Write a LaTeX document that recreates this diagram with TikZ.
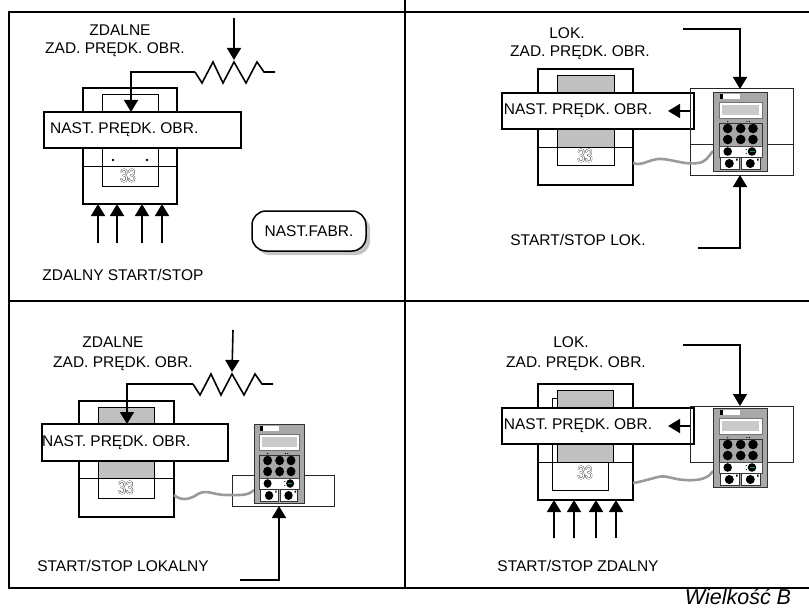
\documentclass[tikz,border=0pt]{standalone}
\usepackage{fontspec}
\setmainfont{Liberation Sans}
\usetikzlibrary{arrows.meta,shadows}
\definecolor{kpgray}{HTML}{A8A8A8}
\definecolor{dispgray}{HTML}{C0C0C0}
\definecolor{lcdgray}{HTML}{CACACA}
\definecolor{cablegray}{HTML}{9A9A9A}
\definecolor{keyteal}{HTML}{1E8C8C}
% outlined figures for the drive's seven-segment display:
% four shifted dark copies with a white copy on top
\newcommand\hollowdigits[1]{\leavevmode
  \rlap{\color{black!75}\kern-0.55pt #1}%
  \rlap{\color{black!75}\kern0.55pt #1}%
  \rlap{\color{black!75}\raise0.45pt\hbox{#1}}%
  \rlap{\color{black!75}\raise-0.45pt\hbox{#1}}%
  {\color{white}#1}}

\begin{document}
\begin{tikzpicture}[x=1pt,y=-1pt,
  lbl/.style={font=\fontsize{15.5}{18}\selectfont, inner sep=0pt},
  framing/.style={line width=2pt},
  casebox/.style={draw, line width=1.8pt, fill=white, anchor=north west, inner sep=0pt, outer sep=0pt},
  dispbox/.style={draw, line width=0.9pt, anchor=north west, inner sep=0pt, outer sep=0pt},
  setbox/.style={draw, line width=1.8pt, fill=white, anchor=north west, inner sep=0pt, outer sep=0pt},
  mountbox/.style={draw=black!85, line width=1pt, anchor=north west, inner sep=0pt, outer sep=0pt},
  wire/.style={line width=1.6pt},
  tip/.style={-{Triangle[width=14pt,length=12pt]}},
  cable/.style={draw=cablegray, line width=2.6pt},
  digits/.style={font=\fontsize{19}{19}\selectfont, xscale=0.72, inner sep=0pt},
  thinrule/.style={line width=0.9pt},
  keypad/.pic={
    \path[fill=kpgray, draw=black!80, line width=0.8pt] (0,0) rectangle (54,79);
    \coordinate (-s) at (27,79);
    \fill[black] (7,2) rectangle (10,7);
    \fill[white] (10,2) rectangle (27,7);
    \path[fill=white, draw=black!55, line width=0.5pt] (6,10) rectangle (49,26);
    \fill[lcdgray] (9,13) rectangle (46,23);
    \fill (14.7,29.5) circle (0.7) (34,29.5) circle (0.7) (36.5,29.5) circle (0.7);
    \path[draw=black!80, line width=0.8pt] (6,31) rectangle (49,54);
    \foreach \cx in {14.7,27.7,40} \foreach \cy in {36.5,47.5} \fill (\cx,\cy) circle (4.8);
    \path[fill=white, draw=black!70, line width=0.5pt] (6,54) rectangle (49,65);
    \fill (14.7,59.5) circle (4.3) (39,59.5) circle (4.3);
    \draw[keyteal, line width=1pt] (36.5,59.5) -- (41.5,59.5);
    \fill (33.2,57.5) circle (0.6) (33.2,61.5) circle (0.6);
    \path[fill=white, draw=black!80, line width=0.7pt] (7,65) rectangle (26,77) (28,65) rectangle (47,77);
    \fill (16.3,71.5) circle (4.5) (37.3,71.5) circle (4.5);
    \fill (23,66.5) rectangle (24.5,68.5) (44,66.5) rectangle (45.5,68.5);
  },
  pot/.pic={
    \coordinate (-start) at (0,0);
    \coordinate (-wiper) at (39,-12);
    \draw[wire, line join=miter] (0,0) -- (7,11) -- (18,-10) -- (28,11) -- (39,-10)
      -- (51,11) -- (62,-10) -- (69,0) -- (80,0);
  }
]
\useasboundingbox (0,0) rectangle (809,610);

% ---- outer frame and quadrant rules
\draw[framing] (9,12) rectangle (815,588);
\draw[framing] (405,0) -- (405,588);
\draw[framing] (9,301) -- (815,301);

% ================= top left: remote reference, remote start/stop
\node[lbl] (tlA) at (120,30) {ZDALNE};
\node[lbl] (tlB) at (115,50) {ZAD. PRĘDK. OBR.};
\node[casebox, minimum width=94pt, minimum height=116pt] (tldrive) at (83,88) {};
\node[dispbox, minimum width=56pt, minimum height=92pt] (tldisp) at (102,94) {};
\draw[thinrule] (83,166) -- (177,166);
\fill (113,160) circle (1.4) (147,160) circle (1.4);
\node[digits] (tlnum) at (128,176) {\hollowdigits{33}};
\node[setbox, minimum width=197pt, minimum height=36pt] (tlset) at (44,112) {};
\node[lbl, anchor=west] (tlsetT) at (50,130) {NAST. PRĘDK. OBR.};
\pic (tlpot) at (195,72) {pot};
\coordinate (tlwip) at (234,18);
\draw[wire,tip] (tlwip) -- (tlpot-wiper);
\coordinate (tlin) at (131,112);
\draw[wire,tip] (tlpot-start) -| (tlin);
\foreach \x [count=\i] in {98,117,142,162} {
  \coordinate (tls\i) at (\x,243);
  \draw[wire,tip] (tls\i) -- (tls\i |- tldrive.south);
}
\node[lbl] (tlC) at (123,275) {ZDALNY START/STOP};
\node[lbl, draw, line width=1.5pt, fill=white, rounded corners=14pt,
  minimum width=114pt, minimum height=40pt,
  drop shadow={shadow xshift=4pt, shadow yshift=-4pt, fill=black!45}] (tlfab) at (309,231) {NAST.FABR.};

% ================= top right: local reference, local start/stop
\node[lbl] (trA) at (567,33) {LOK.};
\node[lbl] (trB) at (580,53) {ZAD. PRĘDK. OBR.};
\node[casebox, minimum width=95pt, minimum height=116pt] (trdrive) at (538,69) {};
\node[dispbox, minimum width=57pt, minimum height=90pt] (trdisp) at (557,75) {};
\node[dispbox, fill=dispgray, minimum width=57pt, minimum height=72pt] (trlcd) at (557,75) {};
\draw[thinrule] (538,147) -- (633,147);
\node[digits] (trnum) at (585,156) {\hollowdigits{33}};
\node[setbox, minimum width=192pt, minimum height=36pt] (trset) at (502,93) {};
\node[lbl] (trsetT) at (578,111) {NAST. PRĘDK. OBR.};
\node[mountbox, minimum width=103pt, minimum height=86pt] (trmount) at (690,89) {};
\draw[thinrule, black!85] (690,144) -- (793,144);
\draw[cable] (633,163) .. controls (642,167) and (650,158) .. (662,159)
  .. controls (675,160) and (685,165) .. (698,163)
  .. controls (706,162) and (708,157) .. (713,151);
\pic (trkp) at (713,92) {keypad};
\coordinate (trout) at (668,111);
\draw[wire,tip] (trmount.west |- trset.east) -- (trout);
\coordinate (trlokin) at (683,29);
\draw[wire,tip] (trlokin) -| (trkp-s |- trmount.north);
\coordinate (trss) at (698,248);
\draw[wire,tip] (trss) -| (trkp-s |- trmount.south);
\node[lbl] (trC) at (578,240) {START/STOP LOK.};

% ================= bottom left: remote reference, local start/stop
\node[lbl] (blA) at (113,342) {ZDALNE};
\node[lbl] (blB) at (123,364) {ZAD. PRĘDK. OBR.};
\node[casebox, minimum width=95pt, minimum height=116pt] (bldrive) at (79,401) {};
\node[dispbox, minimum width=56pt, minimum height=91pt] (bldisp) at (98,407) {};
\node[dispbox, fill=dispgray, minimum width=56pt, minimum height=71pt] (bllcd) at (98,407) {};
\draw[thinrule] (79,478) -- (174,478);
\node[digits] (blnum) at (126,488) {\hollowdigits{33}};
\node[setbox, minimum width=186pt, minimum height=37pt] (blset) at (42,424) {};
\node[lbl, anchor=west] (blsetT) at (42,443) {NAST. PRĘDK. OBR.};
\pic (blpot) at (193,384) {pot};
\coordinate (blwip) at (233,330);
\draw[wire,tip] (blwip) -- (blpot-wiper);
\coordinate (blin) at (127,424);
\draw[wire,tip] (blpot-start) -| (blin);
\node[mountbox, minimum width=102pt, minimum height=31pt] (blmount) at (232,475) {};
\draw[cable] (174,495) .. controls (180,500) and (188,501) .. (198,494)
  .. controls (206,489) and (214,495) .. (226,495)
  .. controls (240,495) and (248,496) .. (254,490);
\pic[xscale=0.926] (blkp) at (254,424) {keypad};
\coordinate (blss) at (240,580);
\draw[wire,tip] (blss) -| (blkp-s |- blmount.south);
\node[lbl] (blC) at (123,566) {START/STOP LOKALNY};

% ================= bottom right: local reference, remote start/stop
\node[lbl] (brA) at (571,342) {LOK.};
\node[lbl] (brB) at (576,364) {ZAD. PRĘDK. OBR.};
\node[casebox, minimum width=95pt, minimum height=116pt] (brdrive) at (538,384) {};
\node[dispbox, fill=white, minimum width=56pt, minimum height=92pt] (brdisp) at (552,398) {};
\node[digits] (brnum) at (585,473) {\hollowdigits{33}};
\node[dispbox, fill=dispgray, minimum width=56pt, minimum height=72pt] (brlcd) at (557,390) {};
\draw[thinrule] (538,462) -- (633,462);
\node[setbox, minimum width=192pt, minimum height=36pt] (brset) at (502,408) {};
\node[lbl] (brsetT) at (578,426) {NAST. PRĘDK. OBR.};
\node[mountbox, minimum width=103pt, minimum height=56pt] (brmount) at (690,406) {};
\draw[cable] (633,483) .. controls (640,482) and (650,479) .. (658,477)
  .. controls (666,475) and (672,479) .. (684,480)
  .. controls (698,481) and (708,479) .. (713,471);
\pic (brkp) at (713,408) {keypad};
\coordinate (brout) at (668,426);
\draw[wire,tip] (brmount.west |- brset.east) -- (brout);
\coordinate (brlokin) at (683,345);
\draw[wire,tip] (brlokin) -| (brkp-s |- brmount.north);
\foreach \x [count=\i] in {554,574,596,616} {
  \coordinate (brs\i) at (\x,538);
  \draw[wire,tip] (brs\i) -- (brs\i |- brdrive.south);
}
\node[lbl] (brC) at (578,566) {START/STOP ZDALNY};

\node[font=\fontsize{21.5}{24}\selectfont\itshape, inner sep=0pt] (sizeB) at (738,597) {Wielkość B};
\end{tikzpicture}
\end{document}
